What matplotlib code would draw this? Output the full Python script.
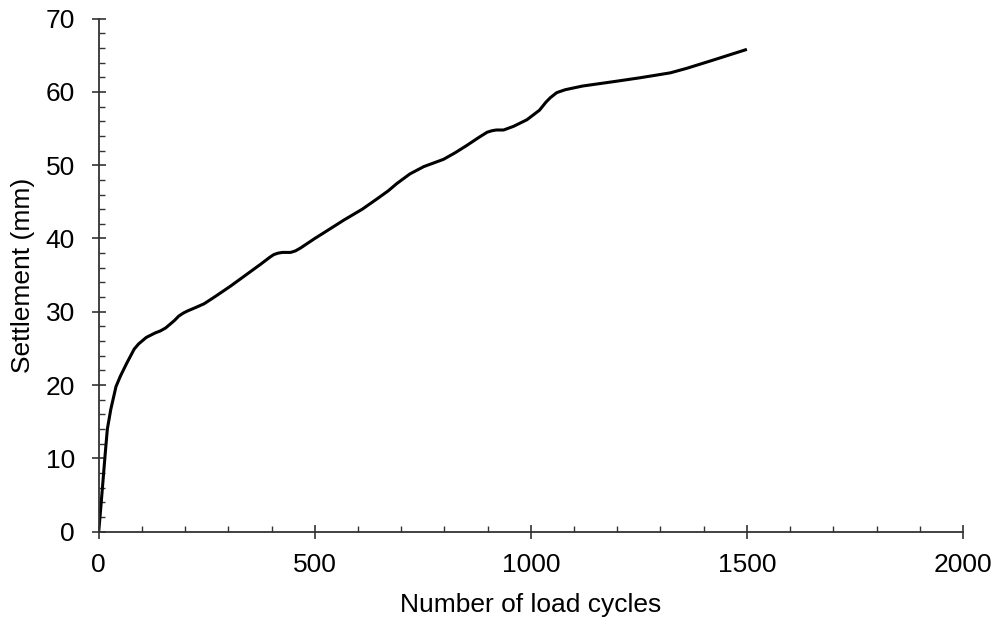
import matplotlib
matplotlib.use("Agg")
import matplotlib.pyplot as plt
from matplotlib.ticker import MultipleLocator

plt.rcParams['font.family'] = ['Liberation Sans', 'DejaVu Sans']

# Settlement versus number of load cycles
cycles = [0, 5, 10, 15, 20, 28, 40, 50, 65, 82, 92, 100, 110, 120, 130, 143,
          155, 165, 175, 185, 195, 205, 225, 244, 270, 305, 340, 375, 395, 405,
          415, 425, 444, 455, 467, 500, 535, 567, 610, 644, 670, 690, 720, 752,
          775, 798, 825, 852, 880, 899, 910, 920, 937, 960, 991, 1020, 1035,
          1045, 1060, 1080, 1120, 1192, 1250, 1292, 1323, 1360, 1420, 1500]
settlement = [0, 3.4, 7.0, 10.6, 14.0, 16.7, 19.8, 21.2, 23.0, 24.9, 25.6, 26.0,
              26.5, 26.8, 27.1, 27.4, 27.8, 28.3, 28.8, 29.4, 29.8, 30.1, 30.6,
              31.1, 32.1, 33.5, 35.0, 36.5, 37.4, 37.8, 38.0, 38.1, 38.1, 38.3,
              38.7, 40.0, 41.3, 42.5, 44.0, 45.4, 46.5, 47.5, 48.8, 49.8, 50.3,
              50.8, 51.7, 52.7, 53.8, 54.5, 54.7, 54.8, 54.8, 55.3, 56.2, 57.5,
              58.6, 59.2, 59.9, 60.3, 60.8, 61.4, 61.9, 62.3, 62.6, 63.2, 64.3,
              65.8]

x_ticks = [0, 500, 1000, 1500, 2000]
y_ticks = [0, 10, 20, 30, 40, 50, 60, 70]

fig = plt.figure(figsize=(9.95, 6.19), dpi=100)
ax = fig.add_axes([0.0992, 0.141, 0.8686, 0.829])

ax.plot(cycles, settlement, color='black', linewidth=2.2,
        solid_joinstyle='round', solid_capstyle='butt')

ax.set_xlim(0, 2000)
ax.set_ylim(0, 70)
ax.set_xticks(x_ticks)
ax.set_yticks(y_ticks)
ax.xaxis.set_minor_locator(MultipleLocator(100))
ax.yaxis.set_minor_locator(MultipleLocator(2))

for side in ('top', 'right'):
    ax.spines[side].set_visible(False)
for side in ('left', 'bottom'):
    ax.spines[side].set_color('#333333')
    ax.spines[side].set_linewidth(1.3)

ax.tick_params(which='major', direction='inout', length=10, width=1.2,
               color='#333333', labelsize=19)
ax.tick_params(axis='x', which='major', pad=10)
ax.tick_params(axis='y', which='major', pad=12)
ax.tick_params(which='minor', direction='in', length=4.5, width=1.0,
               color='#333333')

ax.set_xlabel('Number of load cycles', fontsize=19, labelpad=12)
ax.set_ylabel('Settlement (mm)', fontsize=19, labelpad=8)

fig.savefig('out.png', dpi=100)
